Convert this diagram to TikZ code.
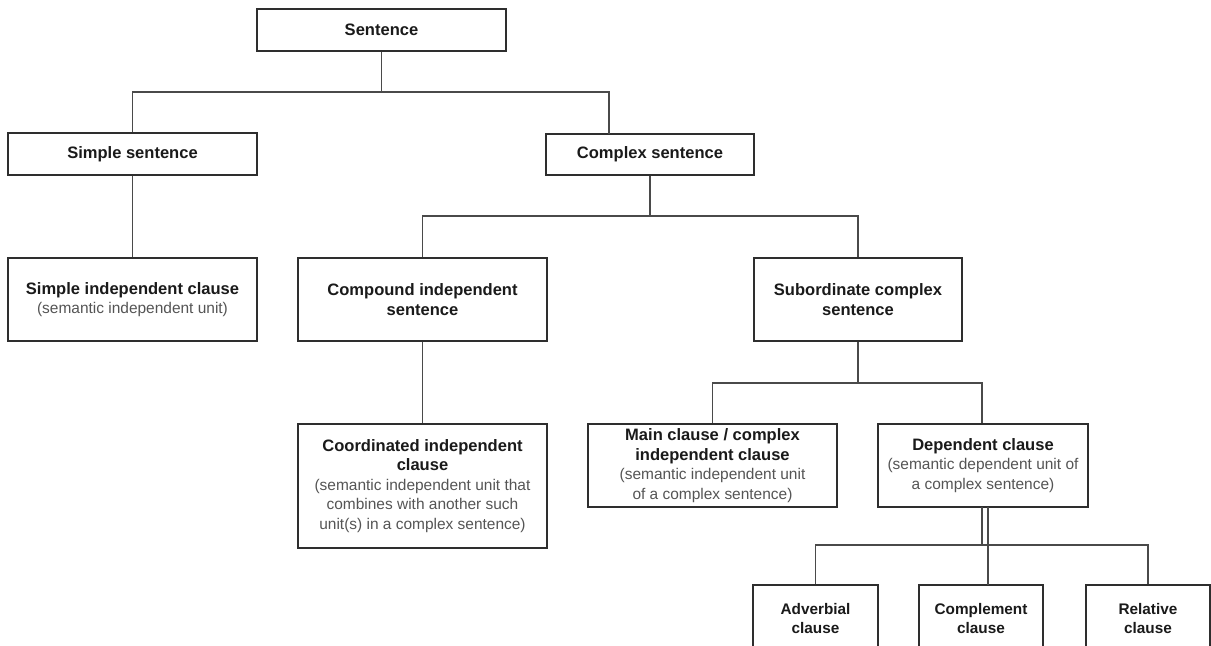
\documentclass[tikz,border=0pt]{standalone}
\usepackage{fontspec}
\setmainfont{Liberation Sans}
\definecolor{txt}{HTML}{1A1A1A}
\definecolor{sub}{HTML}{555555}
\definecolor{edge}{HTML}{2E2E2E}
\definecolor{conn}{HTML}{4A4A4A}
\newcommand{\hd}[1]{{\fontsize{12.4pt}{14.8pt}\selectfont\bfseries\color{txt}#1}}
\newcommand{\hs}[1]{{\fontsize{11.5pt}{14.3pt}\selectfont\bfseries\color{txt}#1}}
\newcommand{\gr}[1]{{\fontsize{11.6pt}{14.3pt}\selectfont\color{sub}#1}}
\begin{document}
\begin{tikzpicture}[x=0.75pt,y=-0.75pt,
  box/.style={draw=edge,line width=0.8pt,fill=white,inner sep=0pt,align=center,
    font=\fontsize{12pt}{14.6pt}\selectfont},
  link/.style={draw=conn,line width=0.8pt}]
\useasboundingbox (0,0) rectangle (1211,646);
\clip (0,0) rectangle (1211,646);
% nodes
\node[box,minimum width=249*0.75pt,minimum height=42*0.75pt] (sent) at (381.5,30) {\hd{Sentence}};
\node[box,minimum width=249*0.75pt,minimum height=42*0.75pt] (simple) at (132.5,154) {\hd{Simple sentence}};
\node[box,minimum width=208*0.75pt,minimum height=41*0.75pt] (complex) at (650,154.5) {\hd{Complex sentence}};
\node[box,minimum width=249*0.75pt,minimum height=83*0.75pt] (sic) at (132.5,299.5) {\hd{Simple independent clause}\\\gr{(semantic independent unit)}};
\node[box,minimum width=249*0.75pt,minimum height=83*0.75pt] (cis) at (422.5,299.5) {\hd{Compound independent}\\\hd{sentence}};
\node[box,minimum width=208*0.75pt,minimum height=83*0.75pt] (scs) at (858,299.5) {\hd{Subordinate complex}\\\hd{sentence}};
\node[box,minimum width=249*0.75pt,minimum height=124*0.75pt] (coord) at (422.5,486) {\hd{Coordinated independent}\\\hd{clause}\\\gr{(semantic independent unit that}\\\gr{combines with another such}\\\gr{unit(s) in a complex sentence)}};
\node[box,minimum width=249*0.75pt,minimum height=83*0.75pt] (main) at (712.5,465.5) {\hd{Main clause / complex}\\\hd{independent clause}\\\gr{(semantic independent unit}\\\gr{of a complex sentence)}};
\node[box,minimum width=210*0.75pt,minimum height=83*0.75pt] (dep) at (983,465.5) {\hd{Dependent clause}\\\gr{(semantic dependent unit of}\\\gr{a complex sentence)}};
\node[box,minimum width=125*0.75pt,minimum height=67*0.75pt] (adv) at (815.5,618.5) {\hs{Adverbial}\\\hs{clause}};
\node[box,minimum width=124*0.75pt,minimum height=67*0.75pt] (comp) at (981,618.5) {\hs{Complement}\\\hs{clause}};
\node[box,minimum width=124*0.75pt,minimum height=67*0.75pt] (rel) at (1148,618.5) {\hs{Relative}\\\hs{clause}};
% junction coordinates
\coordinate (j1) at (381.5,92);
\coordinate (cxin) at (609,134);
\coordinate (j2) at (650,216);
\coordinate (j3) at (858,383);
\coordinate (j4a) at (982,545);
\coordinate (dpa) at (982,507);
\coordinate (dpb) at (988,507);
\coordinate (cpin) at (988,585);
% connectors
\draw[link] (sent.south) -- (j1);
\draw[link] (j1) -| (simple.north);
\draw[link] (j1) -| (cxin);
\draw[link] (simple.south) -- (sic.north);
\draw[link] (complex.south) -- (j2);
\draw[link] (j2) -| (cis.north);
\draw[link] (j2) -| (scs.north);
\draw[link] (cis.south) -- (coord.north);
\draw[link] (scs.south) -- (j3);
\draw[link] (j3) -| (main.north);
\draw[link] (j3) -| ([xshift=-0.75pt]dep.north);
\draw[link] (dpa) -- (j4a);
\draw[link] (j4a) -| (adv.north);
\draw[link] (j4a) -| (rel.north);
\draw[link] (dpb) -- (cpin);
\end{tikzpicture}
\end{document}
